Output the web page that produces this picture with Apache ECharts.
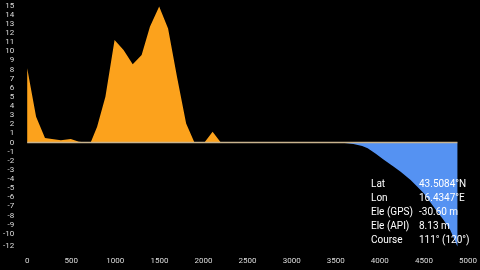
<!DOCTYPE html>
<html><head><meta charset="utf-8">
<script src="https://cdn.jsdelivr.net/npm/echarts@6/dist/echarts.min.js"></script>
<style>html,body{margin:0;padding:0;background:#000;}#c{width:480px;height:270px;}</style>
</head><body><div id="c"></div>
<script>
// Elevation above (orange) profile
const upDist = [0, 101, 202, 240, 382, 494, 587, 681, 720, 793, 887, 991, 1093, 1197, 1298, 1392, 1497, 1598, 1699, 1803, 1897, 2010, 2103, 2196, 4880];
const upVals = [8.14, 2.83, 0.49, 0.45, 0.24, 0.38, 0.09, 0, 0, 1.73, 5.02, 11.24, 10.14, 8.57, 9.59, 12.7, 14.9, 12.5, 7.2, 2.1, 0, 0, 1.18, 0, 0];
// Below-zero (blue) profile
const downDist = [3500, 3600, 3700, 3800, 3862, 3950, 4049, 4150, 4236, 4349, 4420, 4498, 4610, 4723, 4799, 4880];
const downVals = [0, -0.05, -0.15, -0.38, -0.64, -1.2, -1.92, -2.6, -3.2, -4.1, -4.8, -5.57, -7.04, -8.5, -9.6, -11.4];
// Zero reference line extent
const baseDist = [0, 4880];
const baseVals = [0, 0];
// Axis ticks
const xTicks = [0, 500, 1000, 1500, 2000, 2500, 3000, 3500, 4000, 4500, 5000];
const yMin = -12, yMax = 15;
// Info panel
const infoLabels = ['Lat', 'Lon', 'Ele (GPS)', 'Ele (API)', 'Course'];
const infoValues = ['43.5084°N', '16.4347°E', '-30.60 m', '8.13 m', '111° (120°)'];

const zip = (a, b) => a.map((v, i) => [v, b[i]]);
const chart = echarts.init(document.getElementById('c'));
const graphic = [];
infoLabels.forEach((t, i) => {
  const y = 184 + i * 14.2;
  graphic.push({type: 'text', x: 371, y: y, z: 100, style: {text: t, fill: '#fff', font: '10px Roboto', textVerticalAlign: 'middle'}});
  graphic.push({type: 'text', x: 419, y: y, z: 100, style: {text: infoValues[i], fill: '#fff', font: '10px Roboto', textVerticalAlign: 'middle'}});
});
chart.setOption({
  backgroundColor: '#000',
  animation: false,
  grid: {left: 23, right: 12, top: 5.7, bottom: 18, containLabel: false},
  xAxis: {
    type: 'value', min: xTicks[0], max: xTicks[xTicks.length - 1], interval: 500,
    axisLine: {show: false}, axisTick: {show: false}, splitLine: {show: false},
    axisLabel: {color: '#ddd', fontSize: 8, fontFamily: 'Roboto', margin: 5,
      showMinLabel: true, showMaxLabel: true, formatter: v => String(v)}
  },
  yAxis: {
    type: 'value', min: yMin, max: yMax, interval: 1,
    axisLine: {show: false}, axisTick: {show: false}, splitLine: {show: false},
    axisLabel: {
      color: '#ddd', fontSize: 8, fontFamily: 'Roboto', margin: 13,
      showMinLabel: true, showMaxLabel: true,
      formatter: v => v === -12 ? '{b|' + v + '}' : (v === -11 ? '{a|' + v + '}' : String(v)),
      rich: {
        a: {color: '#ddd', fontSize: 8, fontFamily: 'Roboto', padding: [0, 0, 3, 0]},
        b: {color: '#ddd', fontSize: 8, fontFamily: 'Roboto', padding: [0, 0, 13, 0]}
      }
    }
  },
  series: [
    {type: 'line', data: zip(downDist, downVals), symbol: 'none', lineStyle: {width: 0},
     areaStyle: {color: '#5592f2', opacity: 1}, z: 2},
    {type: 'line', data: zip(upDist, upVals), symbol: 'none', lineStyle: {width: 0},
     areaStyle: {color: '#fca21c', opacity: 1}, z: 3},
    {type: 'line', data: zip(baseDist, baseVals), symbol: 'none',
     lineStyle: {width: 1.5, color: '#c9b48e'}, z: 4}
  ],
  graphic: graphic
});
</script></body></html>
